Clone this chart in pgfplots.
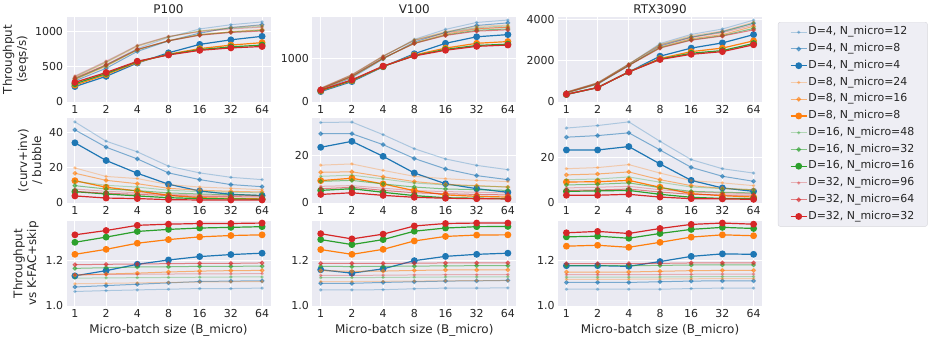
\documentclass[border=0pt]{standalone}
\usepackage{fontspec}
\setmainfont{DejaVu Sans}
\usepackage{pgfplots}
\pgfplotsset{compat=1.18}
\usepackage{pgfplotstable}
\definecolor{bgc}{HTML}{EAEAF2}
\definecolor{txt}{HTML}{262626}
\definecolor{tabblue}{HTML}{1F77B4}
\definecolor{taborange}{HTML}{FF7F0E}
\definecolor{tabgreen}{HTML}{2CA02C}
\definecolor{tabred}{HTML}{D62728}
\definecolor{legbg}{HTML}{EEEEF4}
\definecolor{legdraw}{HTML}{D6D6DC}
\newcommand\ftick{\fontsize{11}{13}\selectfont}
\newcommand\flab{\fontsize{12}{14}\selectfont}

\pgfplotstableread{
x b12 b8 b4 o24 o16 o8 g48 g32 g16 r96 r64 r32
0 320 300 220 350 320 240 360 330 260 370 340 280
1 530 480 365 560 510 390 570 520 405 580 530 420
2 760 720 555 790 740 565 800 745 575 805 750 580
3 920 870 700 925 875 680 930 870 675 935 870 670
4 1040 980 820 1010 960 760 1010 955 745 1000 950 735
5 1100 1060 885 1060 1000 810 1050 995 785 1040 990 770
6 1140 1100 935 1090 1030 845 1075 1020 810 1065 1010 790
}\tPT
\pgfplotstableread{
x b12 b8 b4 o24 o16 o8 g48 g32 g16 r96 r64 r32
0 285 270 240 310 290 255 315 300 265 320 305 275
1 600 560 470 620 580 490 625 590 500 630 595 510
2 1040 990 810 1050 1000 815 1055 1005 820 1060 1010 825
3 1440 1380 1110 1430 1360 1080 1420 1350 1065 1415 1345 1060
4 1670 1600 1350 1620 1560 1240 1600 1540 1210 1590 1530 1190
5 1830 1760 1500 1740 1680 1350 1710 1650 1300 1690 1630 1280
6 1885 1820 1550 1770 1720 1390 1750 1680 1330 1720 1660 1310
}\tVT
\pgfplotstableread{
x b12 b8 b4 o24 o16 o8 g48 g32 g16 r96 r64 r32
0 460 430 360 470 440 365 480 450 370 480 455 375
1 910 860 700 920 880 700 925 880 695 930 885 690
2 1820 1750 1450 1830 1770 1450 1830 1770 1450 1830 1760 1450
3 2820 2700 2210 2780 2650 2100 2760 2620 2070 2740 2600 2050
4 3260 3120 2600 3200 3050 2430 3150 3000 2350 3120 2980 2300
5 3520 3400 2850 3420 3250 2600 3370 3200 2480 3340 3180 2430
6 3950 3800 3250 3850 3650 2950 3800 3550 2820 3720 3480 2760
}\tRT
\pgfplotstableread{
x b12 b8 b4 o24 o16 o8 g48 g32 g16 r96 r64 r32
0 45.8 41.3 34.0 19.8 16.8 12.6 12.3 9.8 6.4 7.9 6.6 4.0
1 34.9 31.5 24.0 15.0 12.8 8.9 10.0 7.9 5.1 6.6 5.5 2.8
2 28.9 24.9 16.8 13.8 10.9 6.8 9.0 7.0 4.0 5.8 4.9 2.5
3 20.8 17.0 10.6 10.4 8.3 4.3 7.2 5.7 3.0 4.9 4.2 1.9
4 17.0 13.2 6.8 9.0 7.2 3.0 6.4 5.1 2.5 4.5 3.8 1.7
5 14.5 10.4 4.9 8.3 6.6 2.6 6.0 4.7 2.3 4.3 3.6 1.7
6 13.2 9.2 4.2 7.5 6.2 2.3 5.7 4.3 2.1 4.2 3.4 1.7
}\tPR
\pgfplotstableread{
x b12 b8 b4 o24 o16 o8 g48 g32 g16 r96 r64 r32
0 33.8 29.1 23.4 15.9 12.9 9.4 11.2 9.1 5.3 7.0 6.0 3.6
1 34.0 29.1 25.9 16.4 13.1 10.4 11.7 9.5 6.0 7.3 6.6 4.3
2 28.7 24.5 19.6 13.7 11.0 8.0 10.1 8.0 4.5 6.2 5.3 3.2
3 22.8 18.7 12.6 11.2 9.0 5.2 8.4 6.7 3.1 5.2 4.3 2.4
4 18.5 14.3 8.1 10.2 7.8 3.4 7.6 5.9 2.2 4.8 3.9 2.0
5 15.8 11.5 6.0 9.5 7.3 2.8 7.1 5.6 2.0 4.5 3.6 1.8
6 14.0 9.8 4.5 9.0 6.7 2.5 6.7 5.3 1.8 4.2 3.4 1.7
}\tVR
\pgfplotstableread{
x b12 b8 b4 o24 o16 o8 g48 g32 g16 r96 r64 r32
0 32.8 28.8 23.2 15.0 12.3 9.2 10.2 7.9 5.1 6.6 5.5 3.4
1 33.9 29.5 23.2 15.5 12.7 9.3 10.5 8.2 5.3 6.9 5.7 3.4
2 35.5 30.7 24.7 16.8 13.6 9.9 11.4 8.8 5.5 7.3 6.1 3.8
3 27.0 23.2 17.1 13.1 10.2 6.9 9.1 6.7 3.8 5.8 4.8 2.6
4 19.0 15.6 9.9 9.8 7.6 4.1 7.0 5.1 2.5 4.8 3.8 1.9
5 15.0 11.7 6.6 8.8 6.4 3.2 6.3 4.7 2.0 4.4 3.5 1.8
6 13.1 9.5 5.1 7.6 5.8 2.6 5.8 4.4 1.9 4.1 3.4 1.6
}\tRR
\pgfplotstableread{
x b12 b8 b4 o24 o16 o8 g48 g32 g16 r96 r64 r32
0 1.064 1.084 1.133 1.098 1.136 1.228 1.123 1.166 1.281 1.138 1.182 1.314
1 1.068 1.090 1.156 1.100 1.141 1.250 1.124 1.169 1.304 1.139 1.184 1.333
2 1.071 1.096 1.184 1.102 1.145 1.277 1.125 1.172 1.329 1.140 1.185 1.356
3 1.074 1.102 1.203 1.104 1.150 1.293 1.126 1.173 1.338 1.141 1.187 1.361
4 1.077 1.108 1.218 1.106 1.154 1.305 1.127 1.175 1.344 1.142 1.188 1.364
5 1.077 1.110 1.227 1.107 1.156 1.311 1.128 1.175 1.347 1.142 1.188 1.364
6 1.079 1.111 1.233 1.108 1.157 1.314 1.128 1.176 1.350 1.143 1.190 1.366
}\tPS
\pgfplotstableread{
x b12 b8 b4 o24 o16 o8 g48 g32 g16 r96 r64 r32
0 1.071 1.100 1.160 1.108 1.156 1.249 1.125 1.175 1.293 1.135 1.188 1.319
1 1.071 1.100 1.145 1.108 1.153 1.228 1.125 1.174 1.271 1.135 1.188 1.296
2 1.072 1.104 1.164 1.109 1.154 1.250 1.126 1.175 1.293 1.136 1.188 1.317
3 1.076 1.107 1.200 1.110 1.157 1.287 1.127 1.176 1.330 1.137 1.189 1.353
4 1.079 1.110 1.219 1.111 1.159 1.307 1.128 1.177 1.344 1.138 1.190 1.364
5 1.079 1.111 1.228 1.112 1.159 1.313 1.128 1.178 1.350 1.138 1.190 1.366
6 1.080 1.113 1.233 1.112 1.159 1.314 1.129 1.178 1.351 1.139 1.190 1.366
}\tVS
\pgfplotstableread{
x b12 b8 b4 o24 o16 o8 g48 g32 g16 r96 r64 r32
0 1.074 1.104 1.178 1.118 1.150 1.264 1.127 1.178 1.305 1.138 1.187 1.323
1 1.074 1.104 1.178 1.118 1.150 1.268 1.127 1.178 1.308 1.138 1.187 1.329
2 1.074 1.104 1.175 1.118 1.150 1.259 1.127 1.178 1.299 1.138 1.187 1.320
3 1.074 1.107 1.196 1.119 1.153 1.281 1.128 1.179 1.320 1.139 1.188 1.342
4 1.077 1.110 1.219 1.120 1.156 1.304 1.129 1.181 1.338 1.140 1.190 1.360
5 1.079 1.111 1.230 1.121 1.157 1.314 1.130 1.181 1.347 1.141 1.190 1.366
6 1.079 1.111 1.228 1.121 1.157 1.310 1.130 1.181 1.342 1.141 1.190 1.361
}\tRS

\pgfplotsset{
  sL/.style={line width=1bp, opacity=0.3, mark=*, mark size=1.2bp},
  sM/.style={line width=1bp, opacity=0.55, mark=*, mark size=1.9bp},
  sF/.style={line width=1.2bp, mark=*, mark size=2.8bp},
  sub/.style={
    scale only axis, width=204bp, height=85bp,
    anchor=south west,
    xmin=-0.27, xmax=6.27, xtick={0,...,6}, xticklabels={1,2,4,8,16,32,64},
    axis background/.style={fill=bgc},
    axis line style={draw=none}, major tick length=0pt,
    grid=major, major grid style={white, line width=1bp},
    tick label style={font=\ftick, text=txt},
    label style={font=\flab, text=txt, align=center},
    title style={font=\flab, text=txt, yshift=-6pt},
    /pgf/number format/assume math mode=true,
    /pgf/number format/1000 sep={},
    scaled y ticks=false,
    legend image code/.code={\draw[mark repeat=2,mark phase=2,##1] plot coordinates {(0bp,0bp) (8bp,0bp) (16bp,0bp)};},
  },
  rowS/.style={ymin=1.0, ymax=1.375, ytick={1.0,1.2},
    yticklabel style={/pgf/number format/.cd, fixed, fixed zerofill, precision=1}},
}
\newcommand\allplots[1]{%
\addplot[sL,color=tabblue] table[x=x,y=b12]{#1};
\addplot[sM,color=tabblue] table[x=x,y=b8]{#1};
\addplot[sF,color=tabblue] table[x=x,y=b4]{#1};
\addplot[sL,color=taborange] table[x=x,y=o24]{#1};
\addplot[sM,color=taborange] table[x=x,y=o16]{#1};
\addplot[sF,color=taborange] table[x=x,y=o8]{#1};
\addplot[sL,color=tabgreen] table[x=x,y=g48]{#1};
\addplot[sM,color=tabgreen] table[x=x,y=g32]{#1};
\addplot[sF,color=tabgreen] table[x=x,y=g16]{#1};
\addplot[sL,color=tabred] table[x=x,y=r96]{#1};
\addplot[sM,color=tabred] table[x=x,y=r64]{#1};
\addplot[sF,color=tabred] table[x=x,y=r32]{#1};
}

\begin{document}
\begin{tikzpicture}
\path[use as bounding box] (0,0) rectangle (934bp,-340bp);
% row 1
\begin{axis}[sub, at={(66.5bp,-102bp)}, title={P100}, ymin=0, ymax=1210, ytick={0,500,1000},
  ylabel={Throughput\\(seqs/s)}]
\allplots{\tPT}
\end{axis}
\begin{axis}[sub, at={(312.3bp,-102bp)}, title={V100}, ymin=0, ymax=1955, ytick={0,1000}]
\allplots{\tVT}
\end{axis}
\begin{axis}[sub, at={(558bp,-102bp)}, title={RTX3090}, ymin=0, ymax=4100, ytick={0,2000,4000},
  legend entries={{D=4, N\_micro=12},{D=4, N\_micro=8},{D=4, N\_micro=4},
    {D=8, N\_micro=24},{D=8, N\_micro=16},{D=8, N\_micro=8},
    {D=16, N\_micro=48},{D=16, N\_micro=32},{D=16, N\_micro=16},
    {D=32, N\_micro=96},{D=32, N\_micro=64},{D=32, N\_micro=32}},
  legend cell align=left,
  legend style={at={(1.078,0.94)}, anchor=north west, fill=legbg, draw=legdraw,
    rounded corners=2bp, font=\ftick, text=txt, inner xsep=12bp, inner ysep=4bp,
    row sep=4.95bp, nodes={inner sep=1bp, text height=7.6bp, text depth=2.2bp},
    /tikz/every even column/.append style={column sep=12bp}}]
\allplots{\tRT}
\end{axis}
% row 2
\begin{axis}[sub, at={(66.5bp,-203bp)}, ymin=0, ymax=48, ytick={0,20,40},
  ylabel={(curv+inv)\\/ bubble}]
\allplots{\tPR}
\end{axis}
\begin{axis}[sub, at={(312.3bp,-203bp)}, ymin=0, ymax=35.7, ytick={0,20}]
\allplots{\tVR}
\end{axis}
\begin{axis}[sub, at={(558bp,-203bp)}, ymin=0, ymax=37.2, ytick={0,20}]
\allplots{\tRR}
\end{axis}
% row 3
\begin{axis}[sub, rowS, at={(66.5bp,-306bp)}, ylabel={Throughput\\vs K-FAC+skip},
  xlabel={Micro-batch size (B\_micro)}]
\allplots{\tPS}
\end{axis}
\begin{axis}[sub, rowS, at={(312.3bp,-306bp)}, xlabel={Micro-batch size (B\_micro)}]
\allplots{\tVS}
\end{axis}
\begin{axis}[sub, rowS, at={(558bp,-306bp)}, xlabel={Micro-batch size (B\_micro)}]
\allplots{\tRS}
\end{axis}
\end{tikzpicture}
\end{document}
